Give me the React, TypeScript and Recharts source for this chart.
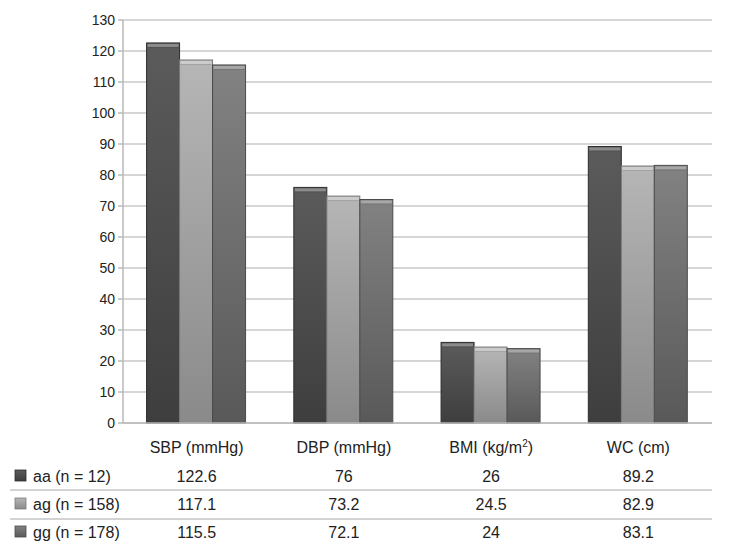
import { BarChart, Bar, XAxis, YAxis, CartesianGrid } from 'recharts';

const categories = ['SBP (mmHg)', 'DBP (mmHg)', 'BMI (kg/m²)', 'WC (cm)'];
const seriesNames = ['aa (n = 12)', 'ag (n = 158)', 'gg (n = 178)'];
const aaValues = [122.6, 76, 26, 89.2];
const agValues = [117.1, 73.2, 24.5, 82.9];
const ggValues = [115.5, 72.1, 24, 83.1];
const yTicks = [0, 10, 20, 30, 40, 50, 60, 70, 80, 90, 100, 110, 120, 130];

const keys = ['aa', 'ag', 'gg'];
const seriesValues = [aaValues, agValues, ggValues];

// top colour, bottom colour, edge colour
const palette: Record<string, [string, string, string]> = {
  aa: ['#5b5b5b', '#3e3e3e', '#2e2e2e'],
  ag: ['#b6b6b6', '#8a8a8a', '#7a7a7a'],
  gg: ['#828282', '#595959', '#4a4a4a'],
};

const data = categories.map((name, i) => ({
  name,
  aa: aaValues[i],
  ag: agValues[i],
  gg: ggValues[i],
}));

const FONT = '"Liberation Sans", Arial, sans-serif';
const PLOT_RIGHT = 712;

const BevelBar = (props: any) => {
  const { x, y, width, height, dataKey } = props;
  if (!height || height <= 0) return null;
  const [, , edge] = palette[dataKey];
  return (
    <g>
      <rect x={x} y={y} width={width} height={height} fill={`url(#grad-${dataKey})`} stroke={edge} strokeWidth={1} />
      <rect x={x + 1} y={y + 1} width={width - 2} height={3} fill="#ffffff" opacity={0.3} />
      <rect x={x + 1} y={y + 4} width={width - 2} height={1} fill="#000000" opacity={0.1} />
    </g>
  );
};

const TableTick = (props: any) => {
  const { x, y, index, payload } = props;
  const rowY = [y + 51, y + 79, y + 107];
  return (
    <g fontFamily={FONT} fontSize={16} fill="#222">
      <text x={x} y={y + 22} textAnchor="middle">
        {index === 2 ? (
          <>
            BMI (kg/m<tspan fontSize={10} dy={-6}>2</tspan>
            <tspan dy={6}>)</tspan>
          </>
        ) : (
          payload.value
        )}
      </text>
      {seriesValues.map((vals, r) => (
        <text key={r} x={x} y={rowY[r]} textAnchor="middle">
          {vals[index]}
        </text>
      ))}
      {index === 0 && (
        <g>
          <line x1={10} x2={PLOT_RIGHT} y1={y + 59} y2={y + 59} stroke="#c4c4c4" strokeWidth={1.5} />
          <line x1={10} x2={PLOT_RIGHT} y1={y + 88} y2={y + 88} stroke="#c4c4c4" strokeWidth={1.5} />
          {seriesNames.map((s, r) => (
            <g key={s}>
              <rect x={15} y={rowY[r] - 12} width={11} height={11} fill={`url(#grad-${keys[r]})`} stroke={palette[keys[r]][2]} strokeWidth={0.8} />
              <text x={33} y={rowY[r]} textAnchor="start">{s}</text>
            </g>
          ))}
        </g>
      )}
    </g>
  );
};

export default function App() {
  return (
    <div style={{ position: 'absolute', left: 0, top: 0, width: 730, height: 550, background: '#fff' }}>
      <BarChart
        width={730}
        height={550}
        data={data}
        margin={{ top: 20, right: 730 - PLOT_RIGHT, left: 0, bottom: 0 }}
        barCategoryGap="16%"
        barGap={0}
      >
        <defs>
          {keys.map((k) => (
            <linearGradient key={k} id={`grad-${k}`} x1="0" y1="0" x2="0" y2="1">
              <stop offset="0%" stopColor={palette[k][0]} />
              <stop offset="100%" stopColor={palette[k][1]} />
            </linearGradient>
          ))}
        </defs>
        <CartesianGrid vertical={false} stroke="#c8c8c8" strokeWidth={1.5} />
        <XAxis
          dataKey="name"
          axisLine={{ stroke: '#b8b8b8', strokeWidth: 1.5 }}
          tickLine={false}
          height={127}
          interval={0}
          tick={<TableTick />}
        />
        <YAxis
          width={123}
          domain={[0, 130]}
          ticks={yTicks}
          interval={0}
          axisLine={{ stroke: '#b8b8b8', strokeWidth: 1.5 }}
          tickLine={{ stroke: '#b8b8b8', strokeWidth: 1.5 }}
          tickSize={5}
          tickMargin={3}
          tick={{ fontSize: 14, fill: '#222', fontFamily: FONT }}
        />
        {keys.map((k) => (
          <Bar key={k} dataKey={k} isAnimationActive={false} shape={<BevelBar />} />
        ))}
      </BarChart>
    </div>
  );
}
